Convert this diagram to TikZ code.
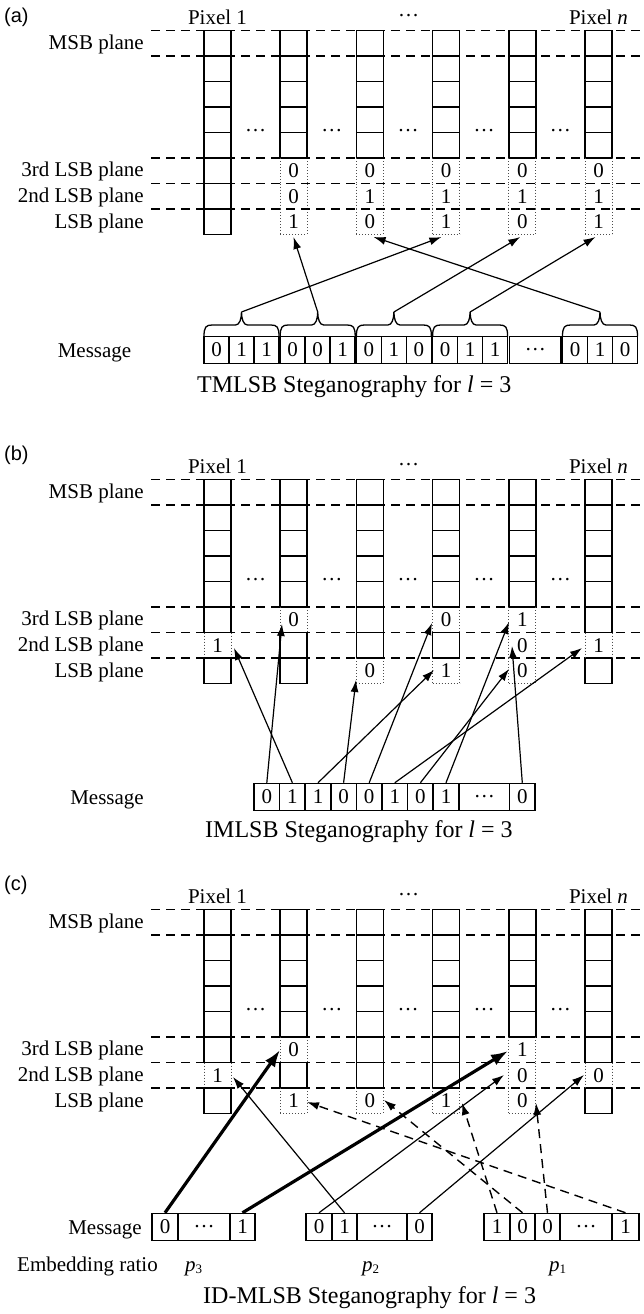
\documentclass[tikz,border=0pt]{standalone}
\usepackage{fontspec}
\setmainfont{Liberation Serif}
\newfontfamily\labsf{Liberation Sans}
\usetikzlibrary{arrows.meta}

\newcommand\SolidCells[3]{% #1 offset, #2 column, #3 list of cells
  \foreach \k in {#3} {
    \draw[cellbox] ({204+76.2*(#2-1)},{30.5+25.5*(\k-1)+#1}) rectangle ++(27,25.5);
  }
}
\newcommand\DotCell[5]{% #1 offset, #2 prefix, #3 column, #4 cell, #5 digit
  \pgfmathsetmacro\dcx{204+76.2*(#3-1)}
  \pgfmathsetmacro\dcy{30.5+25.5*(#4-1)+#1}
  \node[lbl] (#2-c#3-#4) at (\dcx+13.5,\dcy+12.75) {#5};
  \draw[dotside] (\dcx,\dcy) -- (\dcx,\dcy+25.5);
  \draw[dotside] (\dcx+27,\dcy) -- (\dcx+27,\dcy+25.5);
  \ifnum#4=8 \draw[dotside] (\dcx,\dcy+25.5) -- (\dcx+27,\dcy+25.5);\fi
}
\newcommand\PlaneLines[1]{%
  \foreach \yy in {30.5,56,158,183.5,209} {
    \draw[plane] (151,\yy+#1) -- (644,\yy+#1);
  }
}
\newcommand\PanelBase[3]{% #1 offset, #2 prefix, #3 y of panel name
  \node[panelname] (#2-name) at (4,#3) {(#2)};
  \node[lbl,anchor=base] (#2-px1) at (217.5,24.5+#1) {Pixel 1};
  \node[lbl] (#2-pxd) at (408.5,16+#1) {\ldots};
  \node[lbl,anchor=base] (#2-pxn) at (598.5,24.5+#1) {Pixel \textit{n}};
  \node[lbl,anchor=base east] (#2-msb) at (144,49+#1) {MSB plane};
  \node[lbl,anchor=base east] (#2-l3) at (144,176.8+#1) {3rd LSB plane};
  \node[lbl,anchor=base east] (#2-l2) at (144,202.4+#1) {2nd LSB plane};
  \node[lbl,anchor=base east] (#2-l1) at (144,228+#1) {LSB plane};
  \foreach \c in {1,...,5} {
    \node[lbl] (#2-gap\c) at ({204+76.2*(\c-1)+51.6},131+#1) {\ldots};
  }
}
\newcommand\MsgBrace[3]{% xl, xr, name
  \pgfmathsetmacro\bc{(#1+#2)/2}
  \draw[line width=1.3pt] (#1,336.5) .. controls (#1,327) and (#1+2,325) .. (#1+8,325)
    -- (\bc-6,325) .. controls (\bc-2,325) and (\bc,319) .. (\bc,312)
    .. controls (\bc,319) and (\bc+2,325) .. (\bc+6,325)
    -- (#2-8,325) .. controls (#2-2,325) and (#2,327) .. (#2,336.5);
  \coordinate (#3) at (\bc,312);
}

\begin{document}
\begin{tikzpicture}[x=1pt,y=-1pt,
  plane/.style={line width=1.7pt, dash pattern=on 9pt off 6pt},
  cellbox/.style={line width=1.7pt},
  dotside/.style={line width=1pt, dotted, black!70},
  lbl/.style={font=\fontsize{21}{25}\selectfont, inner sep=0pt},
  capt/.style={font=\fontsize{24}{28}\selectfont, inner sep=0pt, anchor=base west},
  panelname/.style={font=\labsf\fontsize{20}{23}\selectfont, inner sep=0pt, anchor=west},
  mcell/.style={draw, line width=1.5pt, minimum height=27pt, inner sep=0pt, font=\fontsize{21}{25}\selectfont},
  arr/.style={line width=1.2pt, -{Latex[length=12pt,width=8pt]}},
  tharr/.style={line width=3.2pt, -{Latex[length=17pt,width=12pt]}},
  dsharr/.style={line width=1.4pt, dash pattern=on 9pt off 6pt, -{Latex[length=12pt,width=8pt]}},
]
\fill[white] (0,0) rectangle (644,1314);
\path[use as bounding box] (0,0) rectangle (644,1314);

%================ (a) ================
\PanelBase{0}{a}{17}
\SolidCells{0}{1}{1,...,8}
\foreach \c in {2,...,6} {\SolidCells{0}{\c}{1,...,5}}
\DotCell{0}{a}{2}{6}{0}\DotCell{0}{a}{2}{7}{0}\DotCell{0}{a}{2}{8}{1}
\DotCell{0}{a}{3}{6}{0}\DotCell{0}{a}{3}{7}{1}\DotCell{0}{a}{3}{8}{0}
\DotCell{0}{a}{4}{6}{0}\DotCell{0}{a}{4}{7}{1}\DotCell{0}{a}{4}{8}{1}
\DotCell{0}{a}{5}{6}{0}\DotCell{0}{a}{5}{7}{1}\DotCell{0}{a}{5}{8}{0}
\DotCell{0}{a}{6}{6}{0}\DotCell{0}{a}{6}{7}{1}\DotCell{0}{a}{6}{8}{1}
\PlaneLines{0}

\node[lbl,anchor=base east] (a-msg) at (131.5,357.5) {Message};
\foreach \g/\da/\db/\dc in {1/0/1/1,2/0/0/1,3/0/1/0,4/0/1/1} {
  \pgfmathsetmacro\gl{204+76.2*(\g-1)}
  \node[mcell,minimum width=25pt] (a-m\g-1) at (\gl+12.5,350) {\da};
  \node[mcell,minimum width=25pt] (a-m\g-2) at (\gl+37.5,350) {\db};
  \node[mcell,minimum width=25pt] (a-m\g-3) at (\gl+62.5,350) {\dc};
  \MsgBrace{\gl}{\gl+75}{a-b\g}
}
\node[mcell,minimum width=51.4pt] (a-mdots) at (535.3,350) {\ldots};
\node[mcell,minimum width=25pt] (a-m5-1) at (575,350) {0};
\node[mcell,minimum width=25pt] (a-m5-2) at (600,350) {1};
\node[mcell,minimum width=25pt] (a-m5-3) at (625,350) {0};
\MsgBrace{562.5}{637.5}{a-b5}

\coordinate (a-t2) at (293.5,237);
\coordinate (a-t3) at (373.6,237);
\coordinate (a-t4) at (441.4,237);
\coordinate (a-t5) at (520.3,237);
\coordinate (a-t6) at (595.5,237);
\draw[arr] (a-b1) -- (a-t4);
\draw[arr] (a-b2) -- (a-t2);
\draw[arr] (a-b3) -- (a-t5);
\draw[arr] (a-b4) -- (a-t6);
\draw[arr] (a-b5) -- (a-t3);

\node[capt] (a-cap) at (197,392.5) {TMLSB Steganography for \textit{l} = 3};

%================ (b) ================
\PanelBase{449}{b}{455}
\SolidCells{449}{1}{1,...,6,8}
\SolidCells{449}{2}{1,...,5,7,8}
\SolidCells{449}{3}{1,...,7}
\SolidCells{449}{4}{1,...,5,7}
\SolidCells{449}{5}{1,...,5}
\SolidCells{449}{6}{1,...,6,8}
\DotCell{449}{b}{1}{7}{1}
\DotCell{449}{b}{2}{6}{0}
\DotCell{449}{b}{3}{8}{0}
\DotCell{449}{b}{4}{6}{0}\DotCell{449}{b}{4}{8}{1}
\DotCell{449}{b}{5}{6}{1}\DotCell{449}{b}{5}{7}{0}\DotCell{449}{b}{5}{8}{0}
\DotCell{449}{b}{6}{7}{1}
\PlaneLines{449}

\node[lbl,anchor=base east] (b-msg) at (144,804.5) {Message};
\foreach \d [count=\i] in {0,1,1,0,0,1,0,1} {
  \node[mcell,minimum width=25.6pt] (b-m\i) at ({266.8+25.6*(\i-1)},797) {\d};
}
\node[mcell,minimum width=50.5pt] (b-mdots) at (484.25,797) {\ldots};
\node[mcell,minimum width=25.6pt] (b-m10) at (522.3,797) {0};

\coordinate (b-t1) at (282,624);
\coordinate (b-t2) at (234,648);
\coordinate (b-t3) at (434,670);
\coordinate (b-t4) at (356,680);
\coordinate (b-t5) at (432,623);
\coordinate (b-t6) at (582,648);
\coordinate (b-t7) at (509,669);
\coordinate (b-t8) at (509,622);
\coordinate (b-t10) at (512,646);
\foreach \i in {1,...,8,10} {\draw[arr] (b-m\i.north) -- (b-t\i);}

\node[capt] (b-cap) at (205,837.5) {IMLSB Steganography for \textit{l} = 3};

%================ (c) ================
\PanelBase{879}{c}{885}
\SolidCells{879}{1}{1,...,6,8}
\SolidCells{879}{2}{1,...,5,7}
\SolidCells{879}{3}{1,...,7}
\SolidCells{879}{4}{1,...,7}
\SolidCells{879}{5}{1,...,5}
\SolidCells{879}{6}{1,...,6,8}
\DotCell{879}{c}{1}{7}{1}
\DotCell{879}{c}{2}{6}{0}\DotCell{879}{c}{2}{8}{1}
\DotCell{879}{c}{3}{8}{0}
\DotCell{879}{c}{4}{8}{1}
\DotCell{879}{c}{5}{6}{1}\DotCell{879}{c}{5}{7}{0}\DotCell{879}{c}{5}{8}{0}
\DotCell{879}{c}{6}{7}{0}
\PlaneLines{879}

\node[lbl,anchor=base east] (c-msg) at (142,1234.5) {Message};
% group p3
\node[mcell,minimum width=26pt] (c-a1) at (165,1227) {0};
\node[mcell,minimum width=52pt] (c-ad) at (204,1227) {\ldots};
\node[mcell,minimum width=25pt] (c-a2) at (242.5,1227) {1};
% group p2
\node[mcell,minimum width=26pt] (c-b1) at (319,1227) {0};
\node[mcell,minimum width=25pt] (c-b2) at (344.5,1227) {1};
\node[mcell,minimum width=50pt] (c-bd) at (382,1227) {\ldots};
\node[mcell,minimum width=25pt] (c-b3) at (419.5,1227) {0};
% group p1
\node[mcell,minimum width=26pt] (c-c1) at (497,1227) {1};
\node[mcell,minimum width=25pt] (c-c2) at (522.5,1227) {0};
\node[mcell,minimum width=25pt] (c-c3) at (547.5,1227) {0};
\node[mcell,minimum width=52pt] (c-cd) at (586,1227) {\ldots};
\node[mcell,minimum width=27pt] (c-c4) at (625.5,1227) {1};

\coordinate (c-ta1) at (280,1050);
\coordinate (c-ta2) at (508,1051);
\coordinate (c-tb1) at (504,1075);
\coordinate (c-tb2) at (233,1077);
\coordinate (c-tb3) at (584,1075);
\coordinate (c-tc1) at (462,1103);
\coordinate (c-tc2) at (384,1100);
\coordinate (c-tc3) at (536,1103);
\coordinate (c-tc4) at (307,1102);
\draw[tharr] (c-a1.north) -- (c-ta1);
\draw[tharr] (c-a2.north) -- (c-ta2);
\draw[arr] (c-b1.north) -- (c-tb1);
\draw[arr] (c-b2.north) -- (c-tb2);
\draw[arr] (c-b3.north) -- (c-tb3);
\draw[dsharr] (c-c1.north) -- (c-tc1);
\draw[dsharr] (c-c2.north) -- (c-tc2);
\draw[dsharr] (c-c3.north) -- (c-tc3);
\draw[dsharr] (c-c4.north) -- (c-tc4);

\node[lbl,anchor=base west] (c-emb) at (17,1271) {Embedding ratio};
\node[lbl,anchor=base west] (c-p3) at (185,1271) {\textit{p}\raisebox{-2pt}{\fontsize{13}{13}\selectfont 3}};
\node[lbl,anchor=base west] (c-p2) at (362,1271) {\textit{p}\raisebox{-2pt}{\fontsize{13}{13}\selectfont 2}};
\node[lbl,anchor=base west] (c-p1) at (549,1271) {\textit{p}\raisebox{-2pt}{\fontsize{13}{13}\selectfont 1}};

\node[capt] (c-cap) at (203,1303) {ID-MLSB Steganography for \textit{l} = 3};
\end{tikzpicture}
\end{document}
